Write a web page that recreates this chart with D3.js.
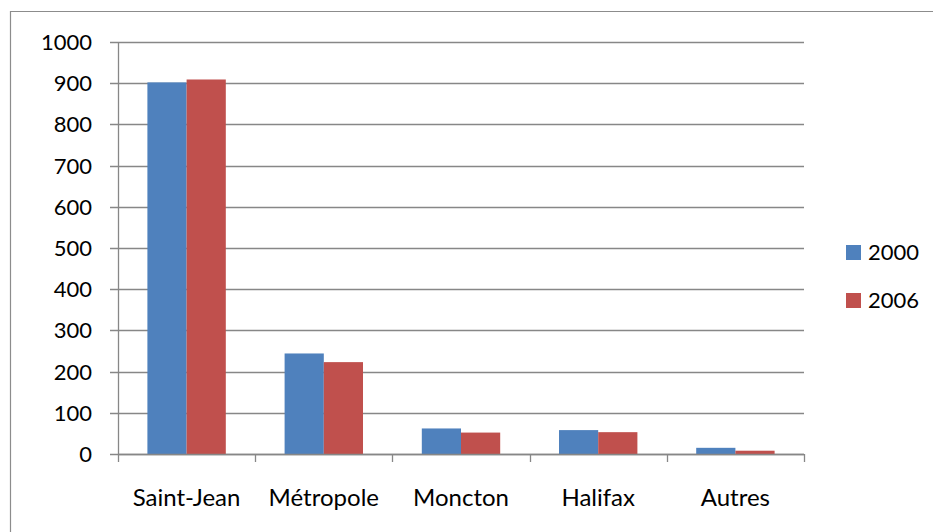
<!DOCTYPE html>
<html>
<head>
<meta charset="utf-8">
<script src="https://cdn.jsdelivr.net/npm/d3@7"></script>
<style>
  html, body { margin: 0; padding: 0; background: #fff; }
  svg { display: block; }
  text { font-family: Lato, "Open Sans", sans-serif; fill: #000; }
</style>
</head>
<body>
<div id="chart"></div>
<script>
// Données
const categories = ["Saint-Jean", "Métropole", "Moncton", "Halifax", "Autres"];
const series_names = ["2000", "2006"];
const values_2000 = [902, 244, 62, 58, 15];
const values_2006 = [909, 223, 52, 53, 8];
const y_ticks = [0, 100, 200, 300, 400, 500, 600, 700, 800, 900, 1000];

const colors = { "2000": "#4F81BD", "2006": "#C0504D" };
const gridColor = "#878787";

const width = 933, height = 532;
const plot = { left: 118, right: 804, top: 42, bottom: 454 };

const svg = d3.select("#chart").append("svg")
    .attr("width", width)
    .attr("height", height);

// Cadre extérieur (bord gauche et haut visibles)
svg.append("path")
    .attr("d", `M10.5,${height} V11.5 H${width}`)
    .attr("fill", "none")
    .attr("stroke", "#8c8c8c")
    .attr("stroke-width", 1.2);

const x = d3.scaleBand()
    .domain(categories)
    .range([plot.left, plot.right])
    .padding(0);

// gap width 150 % (style Excel)
const bw = x.bandwidth();
const gap = bw * 1.5 / 3.5;
const xs = d3.scaleBand()
    .domain(series_names)
    .range([gap / 2, bw - gap / 2])
    .padding(0);

const y = d3.scaleLinear()
    .domain([0, 1000])
    .range([plot.bottom, plot.top]);

// Quadrillage horizontal
svg.append("g")
    .selectAll("line")
    .data(y_ticks)
    .enter()
    .append("line")
    .attr("x1", plot.left - 8)
    .attr("x2", plot.right)
    .attr("y1", d => Math.round(y(d)) + 0.5)
    .attr("y2", d => Math.round(y(d)) + 0.5)
    .attr("stroke", gridColor)
    .attr("stroke-width", 1.3);

// Barres
const rows = categories.map((c, i) => ({ cat: c, "2000": values_2000[i], "2006": values_2006[i] }));

svg.append("g")
    .selectAll("g")
    .data(rows)
    .enter()
    .append("g")
    .attr("transform", d => `translate(${x(d.cat)},0)`)
    .selectAll("rect")
    .data(d => series_names.map(s => ({ s, v: d[s] })))
    .enter()
    .append("rect")
    .attr("x", d => xs(d.s))
    .attr("width", xs.bandwidth())
    .attr("y", d => y(d.v))
    .attr("height", d => y(0) - y(d.v))
    .attr("fill", d => colors[d.s]);

// Axe vertical
svg.append("line")
    .attr("x1", plot.left + 0.5).attr("x2", plot.left + 0.5)
    .attr("y1", plot.top).attr("y2", plot.bottom + 1)
    .attr("stroke", gridColor)
    .attr("stroke-width", 1.3);

// Axe horizontal + graduations
svg.append("line")
    .attr("x1", plot.left).attr("x2", plot.right)
    .attr("y1", plot.bottom + 0.5).attr("y2", plot.bottom + 0.5)
    .attr("stroke", gridColor)
    .attr("stroke-width", 1.3);

const xTickPos = categories.map(c => x(c)).concat([plot.right]);
svg.append("g")
    .selectAll("line")
    .data(xTickPos)
    .enter()
    .append("line")
    .attr("x1", d => Math.round(d) + 0.5)
    .attr("x2", d => Math.round(d) + 0.5)
    .attr("y1", plot.bottom)
    .attr("y2", plot.bottom + 8)
    .attr("stroke", gridColor)
    .attr("stroke-width", 1.3);

// Étiquettes axe Y
svg.append("g")
    .selectAll("text")
    .data(y_ticks)
    .enter()
    .append("text")
    .attr("x", 92)
    .attr("y", d => y(d))
    .attr("dy", "0.36em")
    .attr("text-anchor", "end")
    .attr("font-size", "22px")
    .text(d => d);

// Étiquettes axe X
svg.append("g")
    .selectAll("text")
    .data(categories)
    .enter()
    .append("text")
    .attr("x", d => x(d) + bw / 2)
    .attr("y", 506)
    .attr("text-anchor", "middle")
    .attr("font-size", "24px")
    .text(d => d);

// Légende
const legend = svg.append("g")
    .selectAll("g")
    .data(series_names)
    .enter()
    .append("g")
    .attr("transform", (d, i) => `translate(846,${245 + i * 48})`);

legend.append("rect")
    .attr("width", 15)
    .attr("height", 15)
    .attr("fill", d => colors[d]);

legend.append("text")
    .attr("x", 22)
    .attr("y", 7.5)
    .attr("dy", "0.36em")
    .attr("font-size", "22px")
    .text(d => d);
</script>
</body>
</html>
